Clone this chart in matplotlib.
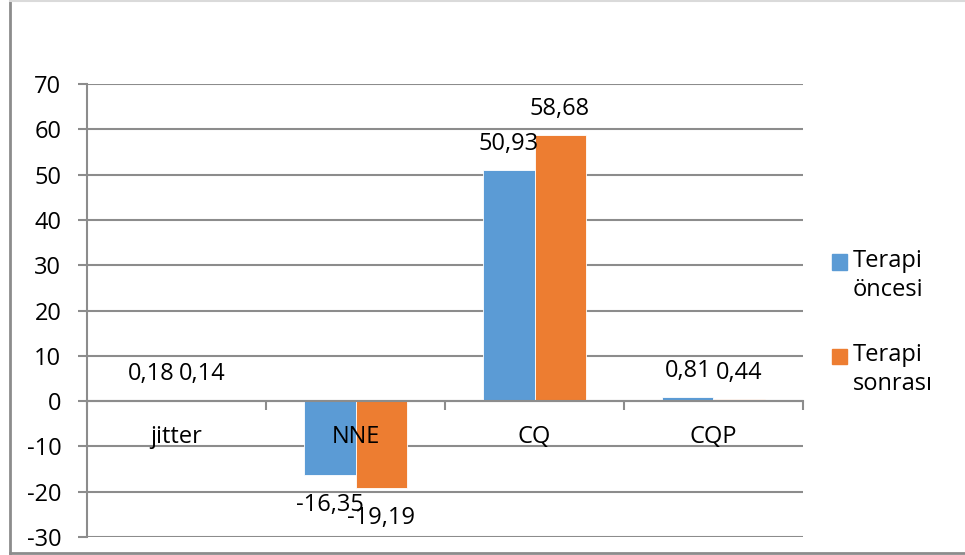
import matplotlib
matplotlib.use("Agg")
import matplotlib.pyplot as plt
from matplotlib.lines import Line2D
from matplotlib.patches import Rectangle
import numpy as np

plt.rcParams["font.family"] = ["Open Sans", "DejaVu Sans"]

categories = ["jitter", "NNE", "CQ", "CQP"]
series_names = ["Terapi\nöncesi", "Terapi\nsonrası"]
before = [0.18, -16.35, 50.93, 0.81]
after = [0.14, -19.19, 58.68, 0.44]
value_labels_before = ["0,18", "-16,35", "50,93", "0,81"]
value_labels_after = ["0,14", "-19,19", "58,68", "0,44"]
y_ticks = [-30, -20, -10, 0, 10, 20, 30, 40, 50, 60, 70]

colors = ["#5B9BD5", "#ED7D31"]
grid_color = "#8C8C8C"
fs = 17

W, H = 965, 555
fig = plt.figure(figsize=(W / 100, H / 100), dpi=100)
ax = fig.add_axes([87 / W, (H - 537) / H, (803 - 87) / W, (537 - 84) / H])

x = np.arange(len(categories))
bw = 0.285
series = [before, after]
labels = [value_labels_before, value_labels_after]
for k, (vals, labs) in enumerate(zip(series, labels)):
    pos = x + (k - 0.5) * bw
    ax.bar(pos, vals, width=bw, color=colors[k], edgecolor="white",
           linewidth=0.6, zorder=3)
    for px, v, t in zip(pos, vals, labs):
        off = 26 if v >= 0 else -30
        ax.annotate(t, (px, v), xytext=(0, off), textcoords="offset pixels",
                    ha="center", va="center", fontsize=fs, color="#000000",
                    zorder=5)

ax.set_xlim(-0.5, len(categories) - 0.5)
ax.set_ylim(y_ticks[0], y_ticks[-1])
ax.set_yticks(y_ticks)
ax.set_yticklabels([str(t) for t in y_ticks], fontsize=fs)
ax.yaxis.grid(True, color=grid_color, linewidth=1.5, zorder=0)
ax.tick_params(axis="y", length=6.5, width=1.5, color=grid_color, pad=12)

# category axis sits on the zero line, ticks between categories
ax.spines["bottom"].set_position(("data", 0))
ax.spines["bottom"].set_color(grid_color)
ax.spines["bottom"].set_linewidth(1.5)
ax.spines["bottom"].set_zorder(4)
ax.set_xticks(np.arange(-0.5, len(categories)), minor=True)
ax.set_xticks([])
ax.tick_params(axis="x", which="minor", length=6.5, width=1.5,
               color=grid_color, direction="out")
for i, c in enumerate(categories):
    ax.annotate(c, (i, 0), xytext=(0, -36), textcoords="offset pixels",
                ha="center", va="center", fontsize=fs, zorder=5)

ax.spines["left"].set_color(grid_color)
ax.spines["left"].set_linewidth(1.5)
ax.spines["top"].set_visible(False)
ax.spines["right"].set_visible(False)
ax.set_facecolor("white")

# legend: squares aligned with the first line of each label
leg_y = [262, 356]
for k, name in enumerate(series_names):
    yc = leg_y[k]
    fig.add_artist(Rectangle(((832) / W, (H - yc - 7.5) / H), 15 / W, 15 / H,
                             transform=fig.transFigure, color=colors[k]))
    fig.text(853 / W, (H - yc + 13) / H, name, fontsize=fs, ha="left",
             va="top", linespacing=1.3)

# chart frame
fig.add_artist(Line2D([9.5 / W, 9.5 / W], [2 / H, 1], transform=fig.transFigure,
                      color="#8C8C8C", linewidth=2))
fig.add_artist(Line2D([9.5 / W, 1], [2 / H, 2 / H], transform=fig.transFigure,
                      color="#8C8C8C", linewidth=2))
fig.add_artist(Line2D([9.5 / W, 1], [1 - 0.5 / H, 1 - 0.5 / H],
                      transform=fig.transFigure, color="#DADADA", linewidth=1.5))

fig.savefig("out.png", dpi=100, facecolor="white")
